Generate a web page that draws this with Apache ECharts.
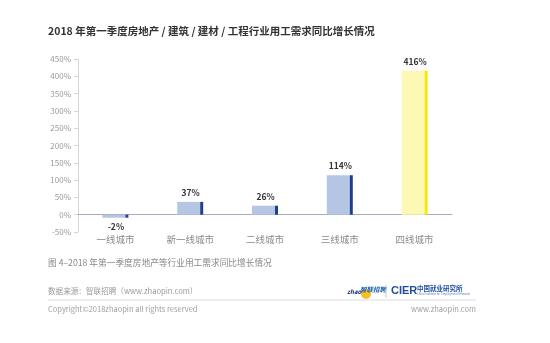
<!DOCTYPE html>
<html>
<head>
<meta charset="utf-8">
<script src="https://cdn.jsdelivr.net/npm/echarts@6/dist/echarts.min.js"></script>
<style>
html,body{margin:0;padding:0;background:#fff;}
#chart{width:550px;height:343px;}
</style>
</head>
<body>
<div id="chart"></div>
<script>
// City tiers and year-on-year growth of hiring demand (%)
const categories = ['一线城市', '新一线城市', '二线城市', '三线城市', '四线城市'];
const growth = [-2, 37, 26, 114, 416];
const yTicks = { min: -50, max: 450, step: 50 };

const FONT = '"Noto Sans CJK SC", "Noto Sans", sans-serif';
const chart = echarts.init(document.getElementById('chart'), null, { renderer: 'canvas' });

const lightFill = (i) => (i === 4 ? '#fdf9b4' : '#b4c6e3');
const darkFill = (i) => (i === 4 ? '#f6e80c' : '#1e3f8c');

const option = {
  backgroundColor: '#ffffff',
  animation: false,
  textStyle: { fontFamily: FONT },
  grid: { left: 78, right: 98, top: 59, bottom: 111 },
  xAxis: {
    type: 'category',
    data: categories,
    axisLine: { onZero: true, lineStyle: { color: '#a3adbd', width: 1 } },
    axisTick: { show: false },
    axisLabel: { color: '#8a8a8a', fontSize: 9.5, margin: 3, fontFamily: FONT }
  },
  yAxis: {
    type: 'value',
    min: yTicks.min,
    max: yTicks.max,
    interval: yTicks.step,
    axisLine: { show: true, lineStyle: { color: '#d6d6d6' } },
    axisTick: { show: true, length: 4, lineStyle: { color: '#d6d6d6' } },
    splitLine: { show: false },
    axisLabel: { color: '#9a9a9a', fontSize: 8, margin: 7, formatter: '{value}%', fontFamily: FONT }
  },
  series: [
    {
      type: 'bar',
      barWidth: 23,
      barGap: '0%',
      barMinHeight: 3,
      data: growth.map((v, i) => ({
        value: v,
        itemStyle: { color: lightFill(i) },
        label: { position: v < 0 ? 'bottom' : 'top' }
      })),
      label: {
        show: true,
        formatter: (p) => p.value + '%',
        color: '#333',
        fontSize: 8.5,
        fontWeight: 'bold',
        distance: 5,
        offset: [2, 0],
        fontFamily: FONT
      }
    },
    {
      type: 'bar',
      barWidth: 3,
      barGap: '0%',
      barMinHeight: 3,
      data: growth.map((v, i) => ({ value: v, itemStyle: { color: darkFill(i) } }))
    }
  ],
  graphic: [
    {
      type: 'text', left: 48, top: 26,
      style: {
        text: '2018 年第一季度房地产 / 建筑 / 建材 / 工程行业用工需求同比增长情况',
        fill: '#333', font: 'bold 10.5px ' + FONT
      }
    },
    {
      type: 'text', left: 48, top: 258,
      style: { text: '图 4–2018 年第一季度房地产等行业用工需求同比增长情况', fill: '#888', font: '8.7px ' + FONT }
    },
    {
      type: 'text', left: 48, top: 287,
      style: { text: '数据来源：智联招聘（www.zhaopin.com）', fill: '#999', font: '7.6px ' + FONT }
    },
    {
      type: 'line', shape: { x1: 48, y1: 300, x2: 476, y2: 300 },
      style: { stroke: '#dcdcdc', lineWidth: 1 }
    },
    {
      type: 'text', left: 48, top: 305,
      style: { text: 'Copyright©2018zhaopin all rights reserved', fill: '#a0a0a0', font: '7.5px ' + FONT }
    },
    {
      type: 'text', right: 74, top: 305,
      style: { text: 'www.zhaopin.com', fill: '#a0a0a0', font: '7.5px ' + FONT }
    },
    // zhaopin / CIER logos
    {
      type: 'circle', shape: { cx: 366, cy: 294, r: 5 },
      style: { fill: '#f4b400', opacity: 0.85 }
    },
    {
      type: 'text', left: 347, top: 289,
      style: { text: 'zhao', fill: '#1a2a6c', font: 'italic bold 6px ' + FONT }
    },
    {
      type: 'text', left: 360, top: 286,
      style: { text: '智联招聘', fill: '#1d5fae', font: 'italic bold 6.5px ' + FONT }
    },
    {
      type: 'line', shape: { x1: 386, y1: 285, x2: 386, y2: 298 },
      style: { stroke: '#c9c9c9', lineWidth: 1 }
    },
    {
      type: 'text', left: 391, top: 285,
      style: { text: 'CIER', fill: '#1e4c9a', font: 'bold 11px "Liberation Sans", Arial, sans-serif' }
    },
    {
      type: 'text', left: 417, top: 285,
      style: { text: '中国就业研究所', fill: '#1e4c9a', font: 'bold 6.5px ' + FONT }
    },
    {
      type: 'text', left: 417, top: 293,
      style: { text: 'China Institute for Employment Research', fill: '#5a7bb5', font: '2.8px ' + FONT }
    }
  ]
};

chart.setOption(option);
</script>
</body>
</html>
